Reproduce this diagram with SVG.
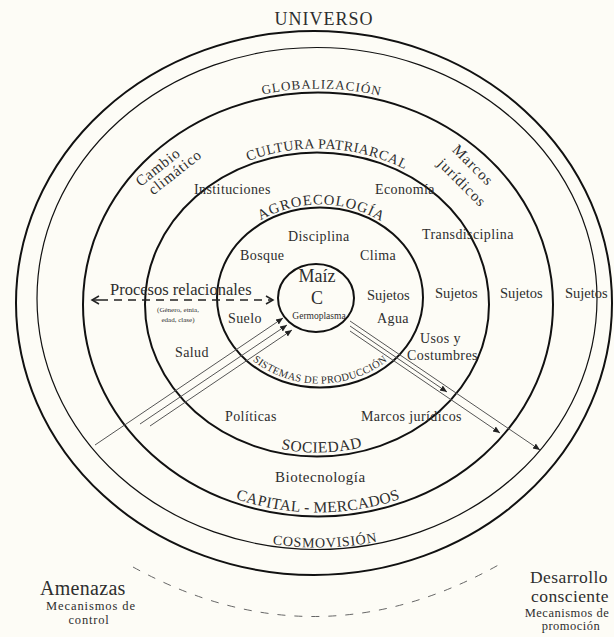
<svg xmlns="http://www.w3.org/2000/svg" xmlns:xlink="http://www.w3.org/1999/xlink" width="614" height="637" viewBox="0 0 614 637">
<style>
text{font-family:"Liberation Serif","Times New Roman",serif;fill:#2e2e2e}
.ring{fill:none;stroke:#111}
.lbl{font-size:14px;letter-spacing:0.4px}
.cap{letter-spacing:0.8px}
.ray{stroke:#555;stroke-width:1;fill:none}
</style>
<defs>
<marker id="ah" markerWidth="8" markerHeight="8" refX="7" refY="4" orient="auto" markerUnits="userSpaceOnUse"><path d="M0,1 L7,4 L0,7 Z" fill="#222"/></marker>
<marker id="chev" markerWidth="10" markerHeight="10" refX="8" refY="5" orient="auto" markerUnits="userSpaceOnUse"><path d="M1,1 L8,5 L1,9" fill="none" stroke="#222" stroke-width="1.5"/></marker>
<path id="pGlob" d="M 79 304.5 A 239 216 0 0 1 557 304.5"/>
<path id="pCap" d="M 87 304.5 A 231 208 0 0 0 549 304.5"/>
<path id="pCult" d="M 141 304.5 A 176 156 0 0 1 493 304.5"/>
<path id="pSoc" d="M 149 304.5 A 168 148 0 0 0 485 304.5"/>
<path id="pAgro" d="M 214 297.5 A 106 93 0 0 1 426 297.5"/>
<path id="pSist" d="M 221 297.5 A 99 86 0 0 0 419 297.5"/>
<path id="pCosmo" d="M 39 298.5 A 278 249 0 0 0 595 298.5"/>
</defs>
<rect width="614" height="637" fill="#fdfcf6"/>

<g id="universo">
<ellipse class="ring" cx="314" cy="303" rx="298" ry="272" stroke-width="2"/>
<text x="324" y="25" font-size="18" letter-spacing="1" text-anchor="middle">UNIVERSO</text>
</g>
<g id="cosmovision">
<ellipse class="ring" cx="317" cy="298.5" rx="280" ry="251" stroke-width="1.2"/>
<text font-size="14" class="cap" text-anchor="middle"><textPath xlink:href="#pCosmo" href="#pCosmo" startOffset="51%">COSMOVISIÓN</textPath></text>
</g>
<g id="globalizacion">
<ellipse class="ring" cx="318" cy="304.5" rx="235" ry="212" stroke-width="2"/>
<text font-size="13" letter-spacing="1" text-anchor="middle"><textPath xlink:href="#pGlob" href="#pGlob" startOffset="50.5%">GLOBALIZACIÓN</textPath></text>
<text font-size="15.5" letter-spacing="0.3" text-anchor="middle"><textPath xlink:href="#pCap" href="#pCap" startOffset="50%">CAPITAL - MERCADOS</textPath></text>
</g>
<g id="cultura">
<ellipse class="ring" cx="317" cy="304.5" rx="172" ry="152" stroke-width="2"/>
<text font-size="14" letter-spacing="0.5" text-anchor="middle"><textPath xlink:href="#pCult" href="#pCult" startOffset="52%">CULTURA PATRIARCAL</textPath></text>
<text font-size="15.5" letter-spacing="0.5" text-anchor="middle"><textPath xlink:href="#pSoc" href="#pSoc" startOffset="51%">SOCIEDAD</textPath></text>
</g>
<g id="agroecologia">
<ellipse class="ring" cx="320" cy="297.5" rx="103" ry="90" stroke-width="2"/>
<text font-size="14.5" letter-spacing="1" text-anchor="middle"><textPath xlink:href="#pAgro" href="#pAgro" startOffset="50.5%">AGROECOLOGÍA</textPath></text>
<text font-size="10.5" letter-spacing="0.3" text-anchor="middle"><textPath xlink:href="#pSist" href="#pSist" startOffset="50%">SISTEMAS DE PRODUCCIÓN</textPath></text>
</g>
<g id="maiz">
<ellipse class="ring" cx="316" cy="298" rx="38" ry="34" stroke-width="2"/>
<text x="317" y="282" font-size="18" text-anchor="middle">Maíz</text>
<text x="317" y="304" font-size="18" text-anchor="middle">C</text>
<text x="319" y="319" font-size="9.5" text-anchor="middle">Germoplasma</text>
</g>

<g id="connectors">
<line x1="100" y1="300" x2="273" y2="300" stroke="#222" stroke-width="1.5" stroke-dasharray="8,6" marker-end="url(#chev)"/>
<path d="M 100 300 L 92 300" stroke="#222" stroke-width="1.5" marker-end="url(#chev)"/>
<line class="ray" x1="95" y1="445" x2="283" y2="318" marker-end="url(#ah)"/>
<line class="ray" x1="140" y1="424" x2="287" y2="325" marker-end="url(#ah)"/>
<line class="ray" x1="150" y1="426" x2="292" y2="330" marker-end="url(#ah)"/>
<line class="ray" x1="350" y1="321" x2="540" y2="450" marker-end="url(#ah)"/>
<line class="ray" x1="350" y1="326" x2="447" y2="392" marker-end="url(#ah)"/>
<line class="ray" x1="350" y1="331" x2="500" y2="433" marker-end="url(#ah)"/>
<path d="M 133 567 Q 317 668 502 563" fill="none" stroke="#666" stroke-width="1" stroke-dasharray="8,9"/>
</g>

<g id="labels">
<text transform="translate(161,171) rotate(-38)" font-size="15" letter-spacing="0.8" text-anchor="middle">Cambio</text>
<text transform="translate(178,176) rotate(-38)" font-size="15" letter-spacing="0.8" text-anchor="middle">climático</text>
<text transform="translate(469.5,168.5) rotate(45)" font-size="15" letter-spacing="1" text-anchor="middle">Marcos</text>
<text transform="translate(458.5,186) rotate(45)" font-size="15" letter-spacing="1" text-anchor="middle">jurídicos</text>
<text class="lbl" x="194" y="194">Instituciones</text>
<text class="lbl" x="375" y="194">Economía</text>
<text class="lbl" x="288" y="241">Disciplina</text>
<text class="lbl" x="422" y="239">Transdisciplina</text>
<text class="lbl" x="240" y="260">Bosque</text>
<text class="lbl" x="360" y="260">Clima</text>
<text x="110" y="295" font-size="16.5">Procesos relacionales</text>
<text x="178" y="312" font-size="7" text-anchor="middle">(Género, etnia,</text>
<text x="178" y="322" font-size="7" text-anchor="middle">edad, clase)</text>
<text x="367" y="300" font-size="14.5">Sujetos</text>
<text x="435" y="298" font-size="14.5">Sujetos</text>
<text x="500" y="298" font-size="14.5">Sujetos</text>
<text x="565" y="298" font-size="14.5">Sujetos</text>
<text class="lbl" x="377" y="323">Agua</text>
<text class="lbl" x="228" y="323">Suelo</text>
<text class="lbl" x="175" y="357">Salud</text>
<text class="lbl" x="420" y="343">Usos y</text>
<text class="lbl" x="407" y="360">Costumbres</text>
<text class="lbl" x="225" y="421">Políticas</text>
<text class="lbl" x="361" y="421">Marcos jurídicos</text>
<text x="275" y="482" font-size="15" letter-spacing="0.5">Biotecnología</text>
<text x="40" y="595" font-size="20" letter-spacing="0.3">Amenazas</text>
<text x="91" y="610" font-size="12.5" letter-spacing="0.9" text-anchor="middle">Mecanismos de</text>
<text x="89" y="624" font-size="12.5" letter-spacing="0.8" text-anchor="middle">control</text>
<text x="569" y="583" font-size="17.5" letter-spacing="0.4" text-anchor="middle">Desarrollo</text>
<text x="570" y="602" font-size="17.5" letter-spacing="0.4" text-anchor="middle">consciente</text>
<text x="567" y="617" font-size="12.5" letter-spacing="0.5" text-anchor="middle">Mecanismos de</text>
<text x="571" y="630" font-size="12.5" letter-spacing="0.5" text-anchor="middle">promoción</text>
</g>
</svg>
